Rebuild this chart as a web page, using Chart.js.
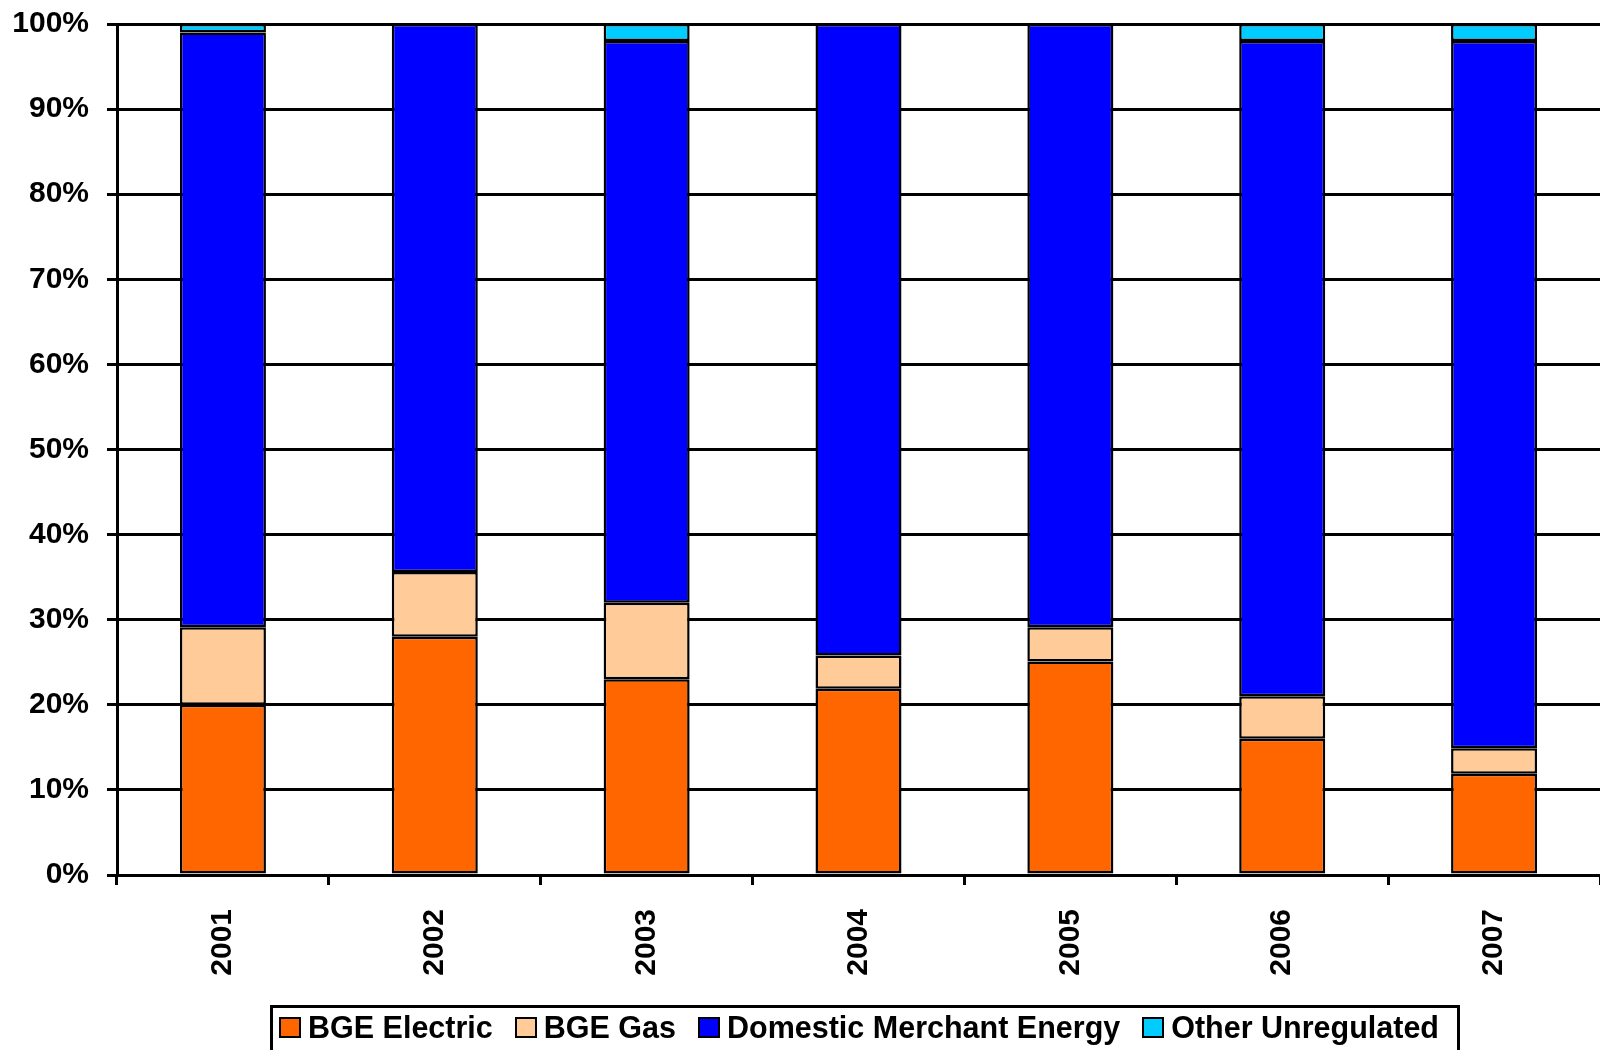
<!DOCTYPE html>
<html>
<head>
<meta charset="utf-8">
<script src="https://cdn.jsdelivr.net/npm/chart.js@4/dist/chart.umd.min.js"></script>
<style>
  html, body { margin: 0; padding: 0; background: #fff; }
  #wrap { position: relative; width: 1600px; height: 1050px; overflow: hidden; }
  #c { position: absolute; left: 0; top: 0; }
  #legend {
    position: absolute; left: 270px; top: 1005px; width: 1190px; height: 60px;
    border: 3px solid #000; box-sizing: border-box; display: flex; align-items: flex-start;
    padding-left: 6px; padding-top: 2px;
    font-family: "Liberation Sans", Arial, sans-serif; font-weight: bold; font-size: 30.5px;
    color: #000; white-space: nowrap;
  }
  .item { display: flex; align-items: center; margin-right: 22px; }
  .sw { width: 18px; height: 17px; border: 2px solid #000; margin-right: 7px; }
</style>
</head>
<body>
<div id="wrap">
  <canvas id="c" width="1600" height="1050"></canvas>
  <div id="legend"></div>
</div>
<script>
const categories = ["2001", "2002", "2003", "2004", "2005", "2006", "2007"];
const seriesNames = ["BGE Electric", "BGE Gas", "Domestic Merchant Energy", "Other Unregulated"];
const bgeElectric = [20.0, 28.0, 23.0, 21.9, 25.1, 16.0, 11.9];
const bgeGas = [9.1, 7.6, 9.0, 3.9, 4.0, 5.0, 3.0];
const domesticMerchant = [69.9, 64.4, 66.0, 74.2, 70.9, 77.0, 83.1];
const otherUnregulated = [1.0, 0.0, 2.0, 0.0, 0.0, 2.0, 2.0];
const colors = ["#FF6600", "#FFCC99", "#0000FF", "#00CCFF"];
const yTicks = [0, 10, 20, 30, 40, 50, 60, 70, 80, 90, 100];

const seriesValues = [bgeElectric, bgeGas, domesticMerchant, otherUnregulated];
const font = { family: "'Liberation Sans', Arial, sans-serif", size: 30, weight: 'bold' };

new Chart(document.getElementById('c'), {
  type: 'bar',
  data: {
    labels: categories,
    datasets: seriesNames.map((n, i) => ({
      label: n,
      data: seriesValues[i],
      backgroundColor: colors[i],
      borderColor: '#000',
      borderWidth: 2.5,
      borderSkipped: false,
      categoryPercentage: 1.0,
      barPercentage: 0.406
    }))
  },
  options: {
    responsive: false,
    animation: false,
    layout: { padding: { top: 24, bottom: 45, left: 0, right: 0 } },
    plugins: { legend: { display: false }, tooltip: { enabled: false } },
    scales: {
      x: {
        stacked: true,
        offset: true,
        grid: { display: true, drawOnChartArea: false, drawTicks: true, tickLength: 10, offset: true, color: '#000', lineWidth: 3 },
        border: { display: true, color: '#000', width: 3 },
        ticks: { color: '#000', font: font, minRotation: 90, maxRotation: 90, padding: 24, autoSkip: false },
        afterFit: s => { s.height = 130; s.paddingLeft = 0; s.paddingRight = 0; }
      },
      y: {
        stacked: true,
        min: 0, max: 100,
        afterBuildTicks: s => { s.ticks = yTicks.map(v => ({ value: v })); },
        grid: { color: '#000', lineWidth: 3, tickLength: 10, drawTicks: true },
        border: { display: true, color: '#000', width: 3 },
        ticks: { color: '#000', font: font, padding: 18, callback: v => v + '%' },
        afterFit: s => { s.width = 117; s.paddingTop = 0; s.paddingBottom = 0; }
      }
    }
  }
});

const lg = document.getElementById('legend');
seriesNames.forEach((n, i) => {
  const it = document.createElement('div'); it.className = 'item';
  const sw = document.createElement('div'); sw.className = 'sw'; sw.style.background = colors[i];
  const tx = document.createElement('span'); tx.textContent = n;
  it.appendChild(sw); it.appendChild(tx); lg.appendChild(it);
});
</script>
</body>
</html>
